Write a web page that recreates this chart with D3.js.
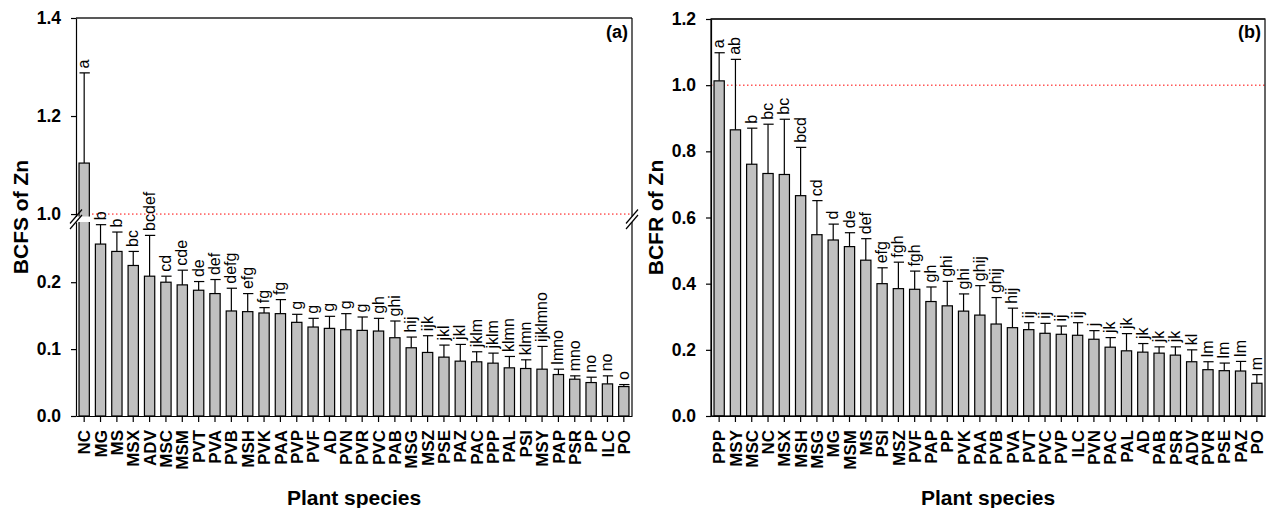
<!DOCTYPE html>
<html>
<head>
<meta charset="utf-8">
<script src="https://cdn.jsdelivr.net/npm/d3@7"></script>
<style>
  body { margin: 0; background: #fff; }
  svg text { font-family: "Liberation Sans", Arial, sans-serif; }
</style>
</head>
<body>
<svg id="chart" width="1267" height="508"></svg>
<script>
// panel (a) - BCFS
var catsS = ["NC","MG","MS","MSX","ADV","MSC","MSM","PVT","PVA","PVB","MSH","PVK","PAA","PVP","PVF","AD","PVN","PVR","PVC","PAB","MSG","MSZ","PSE","PAZ","PAC","PPP","PAL","PSI","MSY","PAP","PSR","PP","ILC","PO"];
var meanS = [1.104,0.257,0.246,0.225,0.209,0.200,0.196,0.188,0.183,0.157,0.156,0.154,0.153,0.140,0.133,0.131,0.129,0.128,0.127,0.117,0.102,0.095,0.088,0.082,0.081,0.079,0.072,0.071,0.070,0.062,0.055,0.050,0.048,0.044];
var errS  = [1.288,0.286,0.275,0.246,0.270,0.209,0.218,0.201,0.204,0.191,0.183,0.162,0.174,0.152,0.146,0.149,0.153,0.148,0.146,0.142,0.118,0.120,0.106,0.107,0.096,0.094,0.089,0.084,0.104,0.070,0.060,0.058,0.060,0.047];
var lettS = ["a","b","b","bc","bcdef","cd","cde","de","def","defg","efg","fg","fg","g","g","g","g","g","gh","ghi","hij","ijk","jkl","jkl","jklm","jklm","klmn","klmn","ijklmno","lmno","mno","no","no","o"];
var ticksSLow = [0, 0.1, 0.2];
var ticksSHigh = [1.0, 1.2, 1.4];

// panel (b) - BCFR
var catsR = ["PPP","MSY","MSC","NC","MSX","MSH","MSG","MG","MSM","MS","PSI","MSZ","PVF","PAP","PP","PVK","PAA","PVB","PVA","PVT","PVC","PVP","ILC","PVN","PAC","PAL","AD","PAB","PSR","ADV","PVR","PSE","PAZ","PO"];
var meanR = [1.013,0.865,0.761,0.733,0.730,0.666,0.548,0.532,0.512,0.471,0.400,0.385,0.383,0.346,0.333,0.317,0.305,0.278,0.267,0.261,0.250,0.247,0.244,0.232,0.208,0.197,0.193,0.190,0.184,0.164,0.140,0.137,0.136,0.099];
var errR  = [1.098,1.078,0.870,0.882,0.897,0.812,0.651,0.580,0.554,0.536,0.448,0.465,0.438,0.390,0.407,0.369,0.394,0.358,0.326,0.282,0.280,0.272,0.282,0.258,0.237,0.249,0.219,0.209,0.209,0.200,0.164,0.160,0.165,0.125];
var lettR = ["a","ab","b","bc","bc","bcd","cd","d","de","def","efg","fgh","fgh","gh","ghi","ghi","ghij","ghij","hij","ij","ij","ij","ij","j","jk","jk","jk","jk","jk","kl","lm","lm","lm","m"];
var ticksR = [0, 0.2, 0.4, 0.6, 0.8, 1.0, 1.2];

var svg = d3.select("#chart");
var fmt = d3.format(".1f");
var barFill = "#c0c0c0";

function rows(cats, mean, err, lett) {
  return cats.map(function(c, i) { return {cat: c, v: mean[i], e: err[i], l: lett[i]}; });
}

function styleAxis(g) {
  g.selectAll("path.domain").attr("stroke", "#000").attr("stroke-width", 1.2);
  g.selectAll(".tick line").attr("stroke", "#000").attr("stroke-width", 1.2);
  g.selectAll(".tick text").attr("fill", "#000")
    .style("font-weight", "bold").style("font-size", "17.5px");
}

function drawBars(g, data, x, y, clipId) {
  var bw = x.bandwidth();
  var grp = g.append("g").attr("clip-path", clipId ? "url(#" + clipId + ")" : null);
  grp.selectAll("line.err").data(data).enter().append("line")
    .attr("class", "err")
    .attr("x1", function(d) { return x(d.cat) + bw / 2; })
    .attr("x2", function(d) { return x(d.cat) + bw / 2; })
    .attr("y1", function(d) { return y(d.v); })
    .attr("y2", function(d) { return y(d.e); })
    .attr("stroke", "#000").attr("stroke-width", 1.2);
  grp.selectAll("line.cap").data(data).enter().append("line")
    .attr("class", "cap")
    .attr("x1", function(d) { return x(d.cat) + 0.5; })
    .attr("x2", function(d) { return x(d.cat) + bw + 0.5; })
    .attr("y1", function(d) { return y(d.e); })
    .attr("y2", function(d) { return y(d.e); })
    .attr("stroke", "#000").attr("stroke-width", 1.2);
  grp.selectAll("rect").data(data).enter().append("rect")
    .attr("x", function(d) { return x(d.cat); })
    .attr("width", bw)
    .attr("y", function(d) { return y(d.v); })
    .attr("height", function(d) { return y(0) - y(d.v); })
    .attr("fill", barFill).attr("stroke", "#000").attr("stroke-width", 1.2);
}

function drawLetters(g, data, x, yFor) {
  var bw = x.bandwidth();
  g.selectAll("text.lett").data(data).enter().append("text")
    .attr("class", "lett")
    .attr("transform", function(d) {
      return "translate(" + (x(d.cat) + bw / 2 + 5) + "," + (yFor(d.e) - 4.5) + ") rotate(-90)";
    })
    .attr("text-anchor", "start")
    .style("font-size", "16px")
    .text(function(d) { return d.l; });
}

function xAxis(g, x, yBase) {
  var ax = g.append("g").attr("transform", "translate(0," + yBase + ")")
    .call(d3.axisBottom(x).tickSize(6).tickSizeOuter(0));
  styleAxis(ax);
  ax.selectAll(".tick text")
    .attr("transform", "rotate(-90)")
    .attr("text-anchor", "end")
    .attr("x", -14).attr("y", 0).attr("dy", "0.36em")
    .style("font-size", "17px");
  return ax;
}

function breakMarks(g, xPos, yTop, yBot) {
  [yTop, yBot].forEach(function(yy) {
    g.append("line")
      .attr("x1", xPos - 6).attr("y1", yy + 7)
      .attr("x2", xPos + 6).attr("y2", yy - 7)
      .attr("stroke", "#000").attr("stroke-width", 1.2);
  });
}

// ---------- panel (a) ----------
var L = {left: 76, right: 632, top: 18, bottom: 416, gapTop: 216.5, gapBot: 222};
var dataS = rows(catsS, meanS, errS, lettS);
var xS = d3.scaleBand().domain(catsS).range([L.left, L.right]).paddingInner(0.37).paddingOuter(0.185);
var ySLow = d3.scaleLinear().domain([0, 0.29]).range([L.bottom, L.gapBot]);
var ySHigh = d3.scaleLinear().domain([0.995, 1.4]).range([L.gapTop, L.top]);

var defs = svg.append("defs");
defs.append("clipPath").attr("id", "clipLow").append("rect")
  .attr("x", L.left).attr("y", L.gapBot).attr("width", L.right - L.left).attr("height", L.bottom - L.gapBot);
defs.append("clipPath").attr("id", "clipHigh").append("rect")
  .attr("x", L.left).attr("y", L.top - 5).attr("width", L.right - L.left).attr("height", L.gapTop - L.top + 5);

var gA = svg.append("g");

// reference line at 1.0
gA.append("line")
  .attr("x1", L.left).attr("x2", L.right)
  .attr("y1", ySHigh(1.0)).attr("y2", ySHigh(1.0))
  .attr("stroke", "#ff0000").attr("stroke-width", 1).attr("stroke-dasharray", "1.5,2.5");

drawBars(gA, dataS, xS, ySLow, "clipLow");
drawBars(gA, dataS, xS, ySHigh, "clipHigh");
drawLetters(gA, dataS, xS, function(v) { return v > 0.29 ? ySHigh(v) : ySLow(v); });

// frame
gA.append("line").attr("x1", L.left).attr("x2", L.right).attr("y1", L.top).attr("y2", L.top)
  .attr("stroke", "#222").attr("stroke-width", 1.4);
gA.append("line").attr("x1", L.right).attr("x2", L.right).attr("y1", L.top).attr("y2", L.gapTop)
  .attr("stroke", "#000").attr("stroke-width", 1.2);
gA.append("line").attr("x1", L.right).attr("x2", L.right).attr("y1", L.gapBot).attr("y2", L.bottom)
  .attr("stroke", "#000").attr("stroke-width", 1.2);

var ayLow = gA.append("g").attr("transform", "translate(" + L.left + ",0)")
  .call(d3.axisLeft(ySLow).tickValues(ticksSLow).tickFormat(fmt).tickSize(5).tickSizeOuter(0).tickPadding(10));
styleAxis(ayLow);
var ayHigh = gA.append("g").attr("transform", "translate(" + L.left + ",0)")
  .call(d3.axisLeft(ySHigh).tickValues(ticksSHigh).tickFormat(fmt).tickSize(5).tickSizeOuter(0).tickPadding(10));
styleAxis(ayHigh);
xAxis(gA, xS, L.bottom);

breakMarks(gA, L.left, L.gapTop, L.gapBot);
breakMarks(gA, L.right, L.gapTop, L.gapBot);

gA.append("text").attr("x", L.right - 4).attr("y", 38).attr("text-anchor", "end")
  .style("font-weight", "bold").style("font-size", "18px").text("(a)");
gA.append("text").attr("transform", "translate(" + (L.left - 48) + "," + ((L.top + L.bottom) / 2) + ") rotate(-90)")
  .attr("text-anchor", "middle").style("font-weight", "bold").style("font-size", "21px").text("BCFS of Zn");
gA.append("text").attr("x", (L.left + L.right) / 2).attr("y", 505).attr("text-anchor", "middle")
  .style("font-weight", "bold").style("font-size", "21px").text("Plant species");

// ---------- panel (b) ----------
var R = {left: 711, right: 1265, top: 19, bottom: 416};
var dataR = rows(catsR, meanR, errR, lettR);
var xR = d3.scaleBand().domain(catsR).range([R.left, R.right]).paddingInner(0.37).paddingOuter(0.185);
var yR = d3.scaleLinear().domain([0, 1.2]).range([R.bottom, R.top]);

var gB = svg.append("g");
gB.append("line")
  .attr("x1", R.left).attr("x2", R.right)
  .attr("y1", yR(1.0)).attr("y2", yR(1.0))
  .attr("stroke", "#ff0000").attr("stroke-width", 1).attr("stroke-dasharray", "1.5,2.5");

drawBars(gB, dataR, xR, yR, null);
drawLetters(gB, dataR, xR, yR);

gB.append("rect").attr("x", R.left).attr("y", R.top).attr("width", R.right - R.left).attr("height", R.bottom - R.top)
  .attr("fill", "none").attr("stroke", "#000").attr("stroke-width", 1.2);
gB.append("line").attr("x1", R.left).attr("x2", R.right).attr("y1", R.top).attr("y2", R.top)
  .attr("stroke", "#222").attr("stroke-width", 1.4);

var ayR = gB.append("g").attr("transform", "translate(" + R.left + ",0)")
  .call(d3.axisLeft(yR).tickValues(ticksR).tickFormat(fmt).tickSize(5).tickSizeOuter(0).tickPadding(10));
styleAxis(ayR);
xAxis(gB, xR, R.bottom);

gB.append("text").attr("x", R.right - 4).attr("y", 38).attr("text-anchor", "end")
  .style("font-weight", "bold").style("font-size", "18px").text("(b)");
gB.append("text").attr("transform", "translate(" + (R.left - 48) + "," + ((R.top + R.bottom) / 2) + ") rotate(-90)")
  .attr("text-anchor", "middle").style("font-weight", "bold").style("font-size", "21px").text("BCFR of Zn");
gB.append("text").attr("x", (R.left + R.right) / 2).attr("y", 505).attr("text-anchor", "middle")
  .style("font-weight", "bold").style("font-size", "21px").text("Plant species");
</script>
</body>
</html>
